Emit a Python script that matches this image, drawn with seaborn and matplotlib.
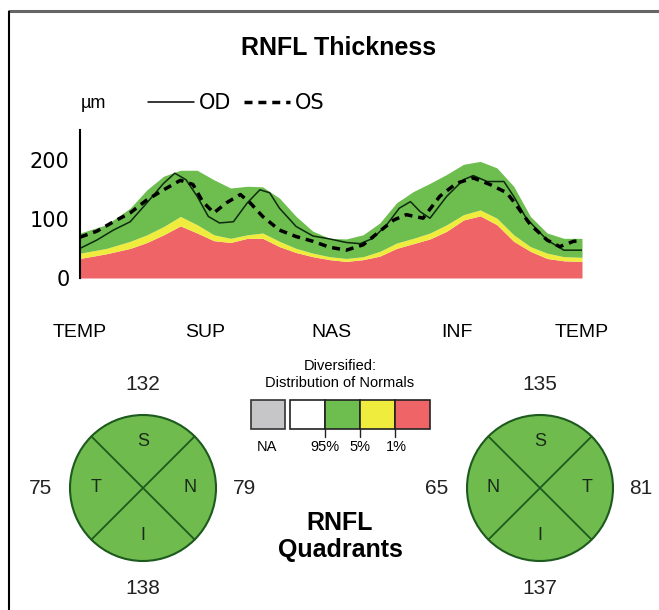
import matplotlib
matplotlib.use("Agg")
import matplotlib.pyplot as plt
import seaborn as sns
from matplotlib.patches import Circle, Rectangle
from matplotlib.lines import Line2D
import numpy as np

# normative bands (upper edge of each colour) along the TSNIT profile, in degrees
band_deg = [0, 19, 36, 48, 60, 72, 84, 96, 108, 120, 131, 143, 155, 167, 179,
            191, 203, 215, 227, 239, 251, 263, 275, 287, 299, 311, 323, 335, 347, 360]
green_top = [76, 90, 118, 149, 172, 182, 182, 166, 152, 155, 154, 135, 104, 79, 67,
             66, 73, 93, 127, 146, 160, 175, 192, 197, 186, 155, 104, 76, 67, 67]
yellow_top = [42, 50, 62, 73, 87, 104, 90, 73, 67, 73, 76, 62, 50, 42, 36,
              33, 36, 45, 59, 67, 76, 90, 107, 115, 101, 73, 53, 42, 36, 35]
red_top = [33, 41, 50, 60, 73, 88, 76, 63, 60, 67, 67, 53, 43, 36, 31,
           28, 31, 37, 50, 58, 66, 79, 98, 105, 90, 62, 45, 33, 29, 28]

# measured RNFL thickness, right eye (OD) and left eye (OS)
od_deg = [0, 12, 24, 36, 48, 60, 68, 76, 84, 92, 100, 110, 120, 129, 136, 143, 155,
          167, 179, 191, 201, 210, 220, 229, 237, 244, 251, 263, 275, 282, 292, 304,
          311, 320, 335, 347, 360]
od_um = [50, 64, 81, 95, 127, 160, 177, 166, 138, 104, 93, 95, 127, 149, 144, 118, 87,
         71, 66, 60, 58, 67, 90, 118, 129, 112, 101, 138, 166, 173, 163, 163,
         138, 101, 64, 47, 47]
os_deg = [0, 12, 24, 36, 48, 60, 72, 81, 88, 96, 105, 115, 122, 131, 143, 155, 167,
          179, 191, 203, 215, 225, 234, 246, 258, 270, 282, 294, 306, 311, 323, 335,
          344, 354, 360]
os_um = [69, 79, 95, 110, 132, 149, 165, 158, 129, 110, 127, 141, 127, 104, 81, 70, 62,
         52, 47, 56, 79, 98, 107, 101, 138, 160, 169, 158, 144, 129, 90, 64,
         53, 62, 63]

sector_ticks = [0, 90, 180, 270, 360]
sector_names = ["TEMP", "SUP", "NAS", "INF", "TEMP"]

# quadrant averages, order: top, right, bottom, left
od_quad_letters = ["S", "N", "I", "T"]
od_quad_values = [132, 79, 138, 75]
os_quad_letters = ["S", "T", "I", "N"]
os_quad_values = [135, 81, 137, 65]

legend_names = ["NA", "95%", "5%", "1%"]

GREEN = "#6dbd4f"
YELLOW = "#f0ec3e"
RED = "#ee6467"
GRAY = "#c6c6c8"
CIRCLE_GREEN = "#6fbb4e"
CIRCLE_EDGE = "#1d5a1d"

sns.set_style("white")
plt.rcParams["font.family"] = ["DejaVu Sans"]
plt.rcParams["text.color"] = "black"
plt.rcParams["xtick.color"] = "black"
plt.rcParams["ytick.color"] = "black"
ARIAL = ["Liberation Sans", "DejaVu Sans"]

W, H = 659, 610
fig = plt.figure(figsize=(W / 100, H / 100), dpi=100)

# overlay in pixel coordinates for the decorations
bg = fig.add_axes([0, 0, 1, 1])
bg.set_xlim(0, W)
bg.set_ylim(H, 0)
bg.axis("off")

# frame
bg.plot([8, W], [11, 11], color="#666666", lw=2.2, solid_capstyle="butt")
bg.plot([8.5, 8.5], [11, H], color="black", lw=1.5, solid_capstyle="butt")

# ---- thickness profile ----
ax = fig.add_axes([80 / W, 1 - 278 / H, 502 / W, 148 / H])
ax.patch.set_alpha(0)
ax.fill_between(band_deg, 0, red_top, color=RED, lw=0)
ax.fill_between(band_deg, red_top, yellow_top, color=YELLOW, lw=0)
ax.fill_between(band_deg, yellow_top, green_top, color=GREEN, lw=0)
sns.lineplot(x=od_deg, y=od_um, ax=ax, color="#0d2a0d", lw=1.1)
sns.lineplot(x=os_deg, y=os_um, ax=ax, color="black", lw=2.5,
             linestyle=(0, (2.3, 1.7)))

ax.set_xlim(0, 360)
ax.set_ylim(0, 250)
ax.set_yticks([0, 50, 100, 150, 200, 250])
ax.set_yticklabels(["0", "", "100", "", "200", ""])
ax.set_xticks(sector_ticks)
ax.set_xticklabels(sector_names, fontfamily=ARIAL, fontsize=14)
ax.tick_params(axis="y", direction="inout", length=9, width=1.5, labelsize=15, pad=3)
ax.tick_params(axis="x", length=0, pad=33)
for s in ["top", "right", "bottom"]:
    ax.spines[s].set_visible(False)
ax.spines["left"].set_linewidth(1.5)
ax.spines["left"].set_color("black")

bg.text(339, 48, "RNFL Thickness", ha="center", va="center", fontsize=18,
        fontweight="bold", fontfamily=ARIAL)
bg.text(93, 103, "µm", ha="center", va="center", fontsize=13, fontfamily=ARIAL)

handles = [Line2D([], [], color="black", lw=1.1),
           Line2D([], [], color="black", lw=2.5, linestyle=(0, (2.3, 1.7)))]
fig.legend(handles, ["OD", "OS"], loc="center left", ncol=2, frameon=False,
           bbox_to_anchor=(129 / W, 1 - 103 / H), handlelength=2.2,
           handletextpad=0.25, columnspacing=0.6, prop={"size": 15})

# ---- colour key ----
bg.text(340, 366, "Diversified:", ha="center", va="center", fontsize=10.5, fontfamily=ARIAL)
bg.text(340, 383, "Distribution of Normals", ha="center", va="center", fontsize=10.5, fontfamily=ARIAL)
bg.add_patch(Rectangle((251, 400), 34, 29, facecolor=GRAY, edgecolor="#333333", lw=1.2))
key_colors = ["white", GREEN, YELLOW, RED]
for i, c in enumerate(key_colors):
    bg.add_patch(Rectangle((290 + 35 * i, 400), 35, 29, facecolor=c, edgecolor="#222222", lw=1.2))
for xt in [325, 360, 395]:
    bg.plot([xt, xt], [429, 437], color="#222222", lw=1)
for xl, name in zip([267, 325, 360, 396], legend_names):
    bg.text(xl, 447, name, ha="center", va="center", fontsize=10.5, fontfamily=ARIAL)

bg.text(340, 523, "RNFL", ha="center", va="center", fontsize=18,
        fontweight="bold", fontfamily=ARIAL)
bg.text(340, 550, "Quadrants", ha="center", va="center", fontsize=18,
        fontweight="bold", fontfamily=ARIAL)


# ---- quadrant circles ----
def quadrant_circle(cx, cy, letters, values):
    r = 73
    bg.add_patch(Circle((cx, cy), r, facecolor=CIRCLE_GREEN, edgecolor=CIRCLE_EDGE, lw=1.5))
    d = r * np.cos(np.pi / 4)
    bg.plot([cx - d, cx + d], [cy - d, cy + d], color=CIRCLE_EDGE, lw=1.3)
    bg.plot([cx - d, cx + d], [cy + d, cy - d], color=CIRCLE_EDGE, lw=1.3)
    inner = [(0, -47), (47, 0), (0, 47), (-47, 0)]
    outer = [(0, -103), (101, 0), (0, 100), (-103, 0)]
    for (dx, dy), lab in zip(inner, letters):
        bg.text(cx + dx, cy + dy, lab, ha="center", va="center", fontsize=13,
                fontfamily=ARIAL, color="#1a2a1a")
    for (dx, dy), v in zip(outer, values):
        bg.text(cx + dx, cy + dy, str(v), ha="center", va="center", fontsize=15,
                fontfamily=ARIAL, color="#222222")


quadrant_circle(143, 488, od_quad_letters, od_quad_values)
quadrant_circle(540, 488, os_quad_letters, os_quad_values)

fig.savefig("out.png", dpi=100)
